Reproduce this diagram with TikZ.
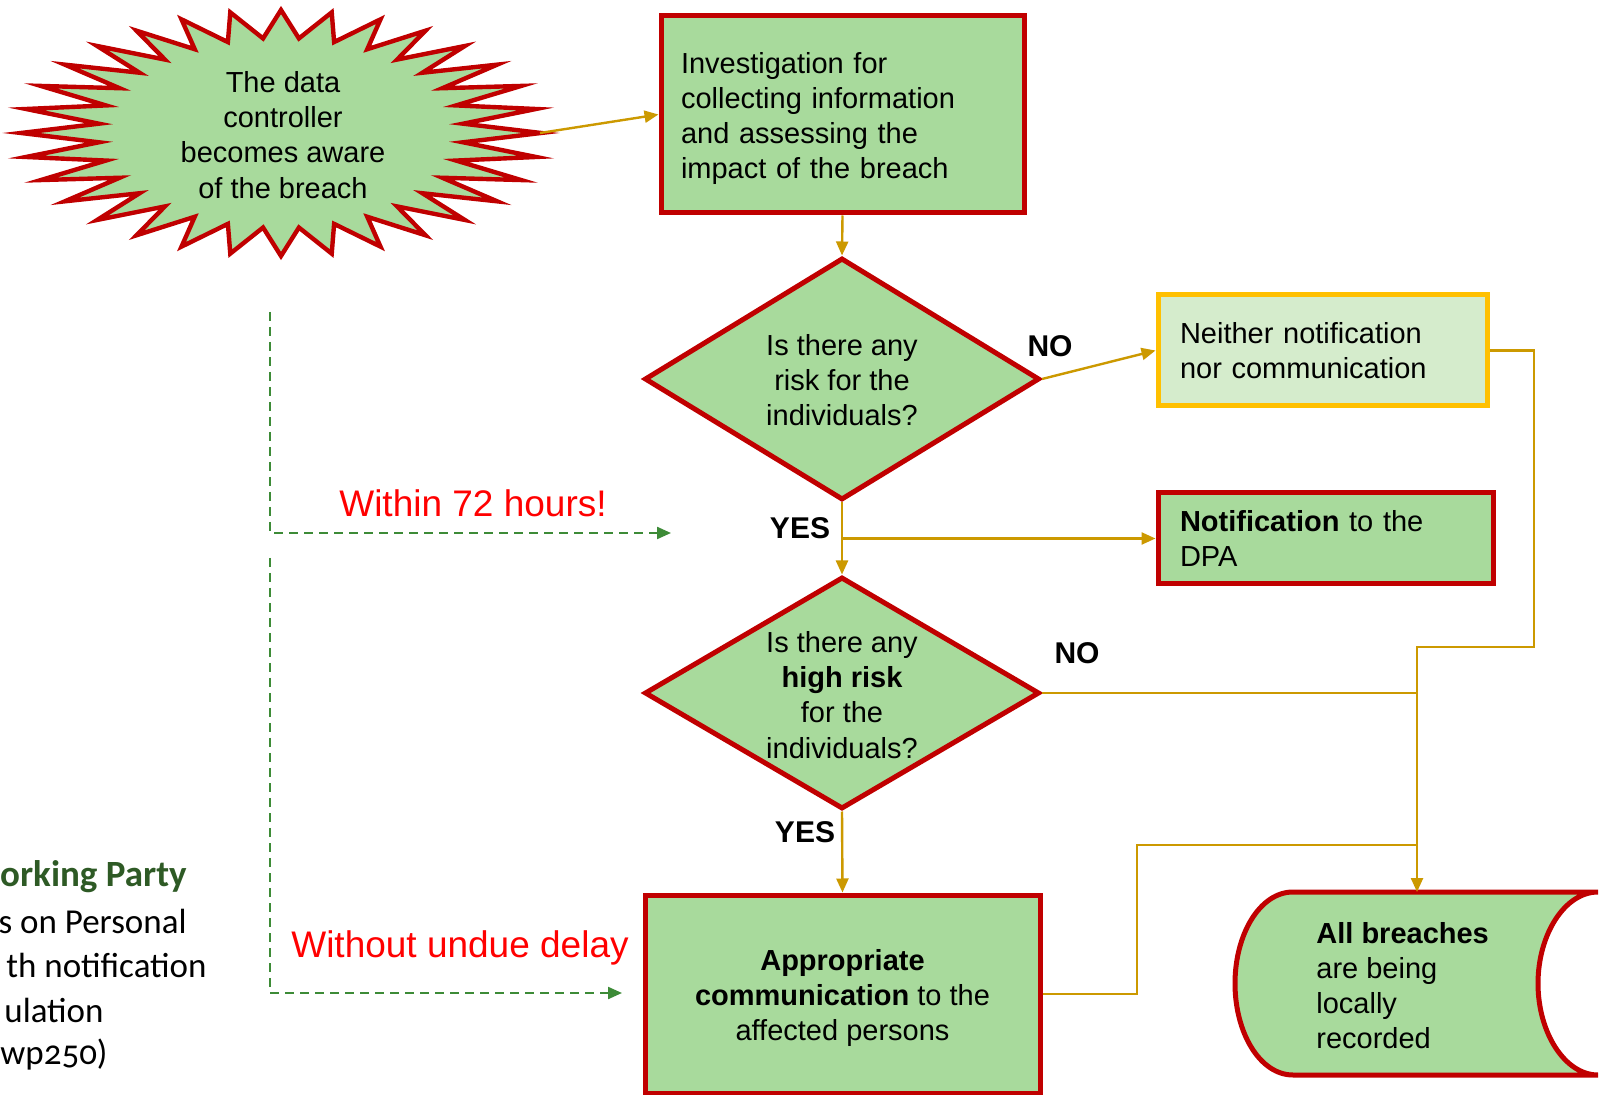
\documentclass[tikz,border=0pt]{standalone}
\usepackage{fontspec}
\setmainfont{Liberation Sans}
\newfontfamily\wpfont[Numbers=OldStyle]{Carlito}
\usetikzlibrary{shapes.geometric,arrows.meta,calc}
\definecolor{boxgreen}{HTML}{A8DA9C}
\definecolor{boxred}{HTML}{C00000}
\definecolor{boxyellow}{HTML}{FFC000}
\definecolor{palegreen}{HTML}{D5ECCC}
\definecolor{conncol}{HTML}{CC9900}
\definecolor{dashgreen}{HTML}{3D8B37}
\definecolor{wpgreen}{HTML}{2E5A25}
\definecolor{warnred}{HTML}{FF0000}
\begin{document}
\begin{tikzpicture}[x=0.5pt,y=-0.5pt,
  txt/.style={font=\fontsize{14.5}{17.6}\selectfont},
  box/.style={draw=boxred,fill=boxgreen,line width=2.5pt,rectangle,inner sep=0pt,txt},
  dia/.style={draw=boxred,fill=boxgreen,line width=2.5pt,diamond,inner sep=0pt},
  ctext/.style={txt,align=center,inner sep=0pt},
  conn/.style={draw=conncol,line width=1.2pt},
  arr/.style={conn,-{Triangle[length=7pt,width=6pt]}},
  dashconn/.style={draw=dashgreen,line width=1.1pt,dash pattern=on 4.5pt off 3pt,-{Triangle[length=7pt,width=6pt]}},
  lbl/.style={font=\bfseries\fontsize{15}{18}\selectfont,inner sep=0pt},
  warn/.style={text=warnred,font=\fontsize{18.5}{22}\selectfont,inner sep=0pt},
  wp/.style={font=\wpfont\fontsize{17.5}{22}\selectfont,inner sep=0pt,anchor=east}
]
\useasboundingbox (0,0) rectangle (1606,1095);
\fill[white] (0,0) rectangle (1606,1095);

% starburst
\coordinate (bc) at (281,133);
\filldraw[draw=boxred,fill=boxgreen,line width=2.2pt,line join=miter]
  ($(bc)+(0:260 and 123)$)
  \foreach \i in {0,...,31}{
    -- ($(bc)+({\i*11.25+5.625}:183 and 95)$)
    -- ($(bc)+({(\i+1)*11.25}:260 and 123)$)
  } -- cycle;
\node[ctext] (burst) at (283,135) {The data\\controller\\becomes aware\\of the breach};
\coordinate (burstE) at (540,133);

% boxes
\node[box,minimum width=181.5pt,minimum height=98.5pt,text width=161.5pt,align=left] (inv) at (842.5,114.5)
  {\rule{0pt}{14.5pt}Investigation for\\collecting information\\and assessing the\\impact of the breach};

\node[dia,minimum width=197.5pt,minimum height=121pt] (d1) at (842,379) {};
\node[ctext] (d1t) at (842,380) {Is there any\\risk for the\\individuals?};

\node[draw=boxyellow,fill=palegreen,line width=2.5pt,rectangle,inner sep=0pt,txt,
  minimum width=164.5pt,minimum height=55.5pt,text width=142.5pt,align=left] (neither) at (1322.5,350.5)
  {Neither notification\\nor communication};

\node[box,minimum width=167.5pt,minimum height=45.5pt,text width=145.5pt,align=left] (notif) at (1325.5,538.5)
  {\textbf{Notification} to the\\DPA};

\node[dia,minimum width=197.5pt,minimum height=116pt] (d2) at (842,693) {};
\node[ctext] (d2t) at (842,695) {Is there any\\\textbf{high risk}\\for the\\individuals?};

\node[box,minimum width=197.5pt,minimum height=99pt,align=center] (appr) at (842.5,994)
  {\rule{0pt}{14.5pt}\textbf{Appropriate}\\\textbf{communication} to the\\affected persons};

% storage shape
\coordinate (stTL) at (1293,892);
\coordinate (stTR) at (1598,892);
\coordinate (stBR) at (1598,1075);
\coordinate (stBL) at (1293,1075);
\coordinate (stTop) at (1417,892);
\filldraw[draw=boxred,fill=boxgreen,line width=2.5pt,line cap=round]
  (stTL) -- (stTR)
  .. controls (1565,892) and (1538,934) .. (1538,983.5)
  .. controls (1538,1033) and (1565,1075) .. (stBR)
  -- (stBL)
  .. controls (1260,1075) and (1235,1033) .. (1235,983.5)
  .. controls (1235,934) and (1260,892) .. (stTL) -- cycle;
\node[txt,align=left,anchor=west,inner sep=0pt] (store) at (1316,985.5)
  {\textbf{All breaches}\\are being\\locally\\recorded};

% connectors
\draw[arr] (burstE) -- (inv.west);
\draw[arr] (inv.south) -- (d1.north);
\draw[arr] (d1.east) -- (neither.west);
\draw[arr] (d1.south) -- (d2.north);
\draw[arr] (d1.south |- notif.west) -- (notif.west);
\draw[arr] (d2.south) -- (appr.north);
\coordinate (bendR) at (1534,647);
\draw[arr] (neither.east) -| (bendR) -| (stTop);
\draw[conn] (d2.east) -- (d2.east -| stTop);
\coordinate (joinB) at (1137,845);
\draw[conn] (appr.east) -| (joinB) -- (joinB -| stTop);

% labels
\node[lbl] (no1) at (1050,346) {NO};
\node[lbl] (yes1) at (800,528) {YES};
\node[lbl] (no2) at (1077,653) {NO};
\node[lbl] (yes2) at (805,832) {YES};

% dashed timing arrows
\coordinate (dAs) at (270,312);
\coordinate (dAe) at (671,533);
\coordinate (dBs) at (270,558);
\coordinate (dBe) at (622,993);
\draw[dashconn] (dAs) |- (dAe);
\draw[dashconn] (dBs) |- (dBe);
\node[warn] (w72) at (473,503) {Within 72 hours!};
\node[warn] (wud) at (460,948) {Without undue delay};

% cut-off reference text
\begin{scope}
\clip (0,0) rectangle (1606,1095);
\node[wp,text=wpgreen,font=\wpfont\bfseries\fontsize{18.5}{22}\selectfont] (wp1) at (187,877) {orking Party};
\node[wp] (wp2) at (187,921) {s on Personal};
\node[wp] (wp3) at (207,965) {th notification};
\node[wp] (wp4) at (104,1010) {ulation};
\node[wp] (wp5) at (108,1055) {wp250)};
\end{scope}
\end{tikzpicture}
\end{document}
